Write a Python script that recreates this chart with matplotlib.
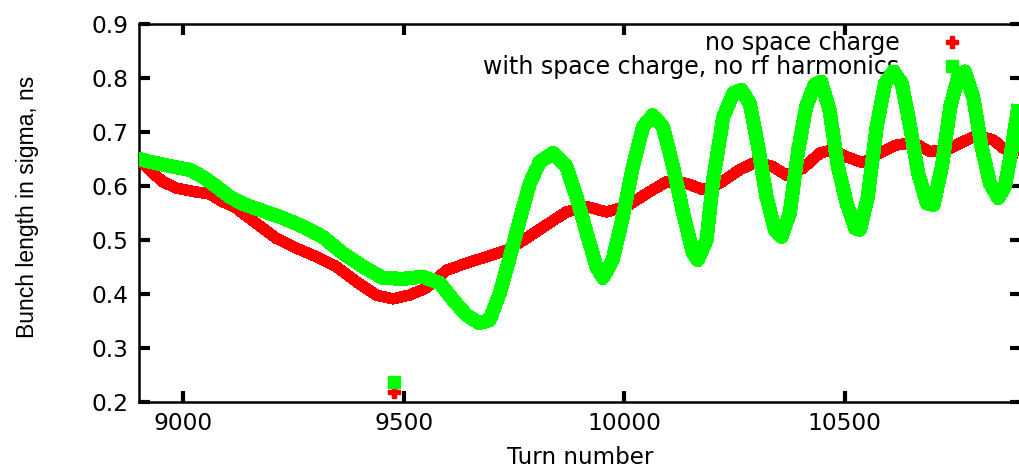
import matplotlib
matplotlib.use("Agg")
import matplotlib.pyplot as plt
from matplotlib.lines import Line2D

plt.rcParams['font.family'] = ['DejaVu Sans']

# bunch length without space charge
turn_nosc = [8897, 8923, 8953, 8984, 9029, 9060, 9082, 9120, 9165, 9211, 9256,
             9302, 9347, 9392, 9438, 9475, 9513, 9551, 9597, 9642, 9688, 9733,
             9778, 9824, 9869, 9915, 9960, 10005, 10051, 10096, 10142, 10179,
             10217, 10262, 10300, 10337, 10368, 10406, 10444, 10474, 10505,
             10542, 10580, 10618, 10656, 10694, 10732, 10769, 10800, 10838,
             10860, 10895]
sigma_nosc = [0.652, 0.630, 0.608, 0.596, 0.589, 0.585, 0.574, 0.559, 0.531,
              0.503, 0.485, 0.469, 0.451, 0.423, 0.398, 0.391, 0.398, 0.411,
              0.444, 0.457, 0.469, 0.481, 0.503, 0.528, 0.552, 0.562, 0.552,
              0.562, 0.586, 0.608, 0.605, 0.593, 0.605, 0.630, 0.645, 0.636,
              0.620, 0.633, 0.661, 0.667, 0.654, 0.643, 0.661, 0.676, 0.680,
              0.664, 0.667, 0.682, 0.694, 0.685, 0.670, 0.660]

# bunch length with space charge, no rf harmonics
turn_sc = [8897, 8923, 8969, 9014, 9044, 9075, 9105, 9135, 9180, 9225, 9271,
           9316, 9361, 9407, 9452, 9497, 9543, 9582, 9612, 9642, 9672, 9695,
           9718, 9741, 9763, 9786, 9809, 9839, 9869, 9892, 9915, 9937, 9952,
           9974, 9997, 10020, 10043, 10065, 10088, 10111, 10134, 10156, 10167,
           10187, 10202, 10225, 10248, 10266, 10285, 10304, 10323, 10342,
           10357, 10376, 10394, 10413, 10432, 10447, 10466, 10485, 10505,
           10524, 10535, 10553, 10573, 10592, 10611, 10630, 10649, 10667,
           10687, 10702, 10721, 10740, 10758, 10773, 10792, 10811, 10830,
           10849, 10864, 10879, 10895]
sigma_sc = [0.651, 0.645, 0.637, 0.630, 0.617, 0.599, 0.580, 0.567, 0.554,
            0.541, 0.525, 0.506, 0.476, 0.451, 0.430, 0.428, 0.432, 0.420,
            0.389, 0.361, 0.346, 0.352, 0.402, 0.469, 0.537, 0.605, 0.645,
            0.661, 0.636, 0.580, 0.513, 0.451, 0.430, 0.463, 0.543, 0.636,
            0.710, 0.731, 0.710, 0.636, 0.550, 0.476, 0.463, 0.500, 0.611,
            0.728, 0.772, 0.778, 0.753, 0.673, 0.580, 0.519, 0.506, 0.550,
            0.661, 0.747, 0.787, 0.793, 0.741, 0.636, 0.568, 0.522, 0.519,
            0.580, 0.710, 0.790, 0.812, 0.790, 0.710, 0.624, 0.568, 0.565,
            0.636, 0.747, 0.802, 0.812, 0.765, 0.673, 0.605, 0.578, 0.599,
            0.667, 0.750]

# isolated points near the bottom
turn_low = [9477]
sigma_low_nosc = [0.2185]
sigma_low_sc = [0.237]

red = '#ff0000'
green = '#00ff00'

fig = plt.figure(figsize=(10.19, 4.69), dpi=100)
ax = fig.add_axes([139.3 / 1019, 1 - 402 / 469, (1020.8 - 139.3) / 1019, (402 - 24) / 469])

ax.plot(turn_nosc, sigma_nosc, color=red, lw=7.5, solid_capstyle='butt',
        antialiased=False, zorder=3)
ax.plot(turn_sc, sigma_sc, color=green, lw=9.5, solid_capstyle='butt',
        antialiased=False, zorder=4)
ax.plot(turn_low, sigma_low_nosc, linestyle='none', marker='P', ms=8,
        color=red, mec=red, antialiased=False, zorder=3)
ax.plot(turn_low, sigma_low_sc, linestyle='none', marker='s', ms=9,
        color=green, mec=green, antialiased=False, zorder=4)

ax.set_xlim(8900, 10900)
ax.set_ylim(0.2, 0.9)
ax.set_xticks([9000, 9500, 10000, 10500])
ax.set_yticks([0.2, 0.3, 0.4, 0.5, 0.6, 0.7, 0.8, 0.9])
ax.set_yticklabels(['0.2', '0.3', '0.4', '0.5', '0.6', '0.7', '0.8', '0.9'])
ax.tick_params(direction='in', length=8, width=3, labelsize=16.8,
               top=True, right=True, pad=8)
ax.tick_params(axis='x', pad=7)
for s in ax.spines.values():
    s.set_linewidth(1.8)

ax.set_xlabel('Turn number', fontsize=16.6, labelpad=8)
fig.text(28 / 1019, 1 - 207 / 469, 'Bunch length in sigma, ns', rotation=90,
         ha='center', va='center', fontsize=16.5, family='Liberation Sans')

handles = [
    Line2D([], [], linestyle='none', marker='P', ms=8, color=red, mec=red),
    Line2D([], [], linestyle='none', marker='s', ms=9, color=green, mec=green),
]
leg = ax.legend(handles, ['no space charge', 'with space charge, no rf harmonics'],
                loc='upper right', bbox_to_anchor=(0.9455, 1.0065), frameon=False,
                markerfirst=False, fontsize=17, handlelength=1.0,
                handletextpad=1.7, labelspacing=0.0, borderaxespad=0.0)
leg.set_zorder(1)

fig.savefig('out.png', dpi=100)
